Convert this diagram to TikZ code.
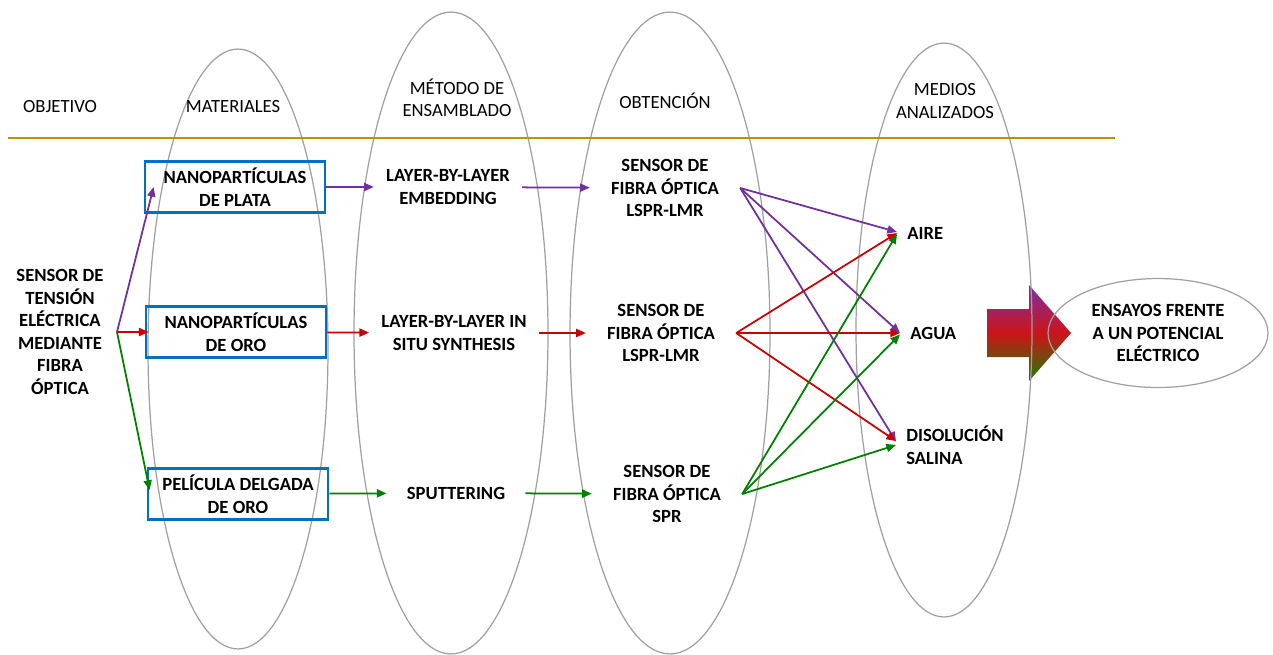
\documentclass[tikz,border=0pt]{standalone}
\usepackage{fontspec}
\setmainfont{Carlito}
\usetikzlibrary{arrows.meta,positioning,shapes.geometric}
\definecolor{goldline}{RGB}{191,144,0}
\definecolor{boxblue}{RGB}{0,112,192}
\definecolor{arrpurple}{RGB}{112,48,160}
\definecolor{arrred}{RGB}{204,0,0}
\definecolor{arrgreen}{RGB}{0,128,0}
\definecolor{ellgray}{RGB}{160,160,160}
\definecolor{shtop}{RGB}{125,45,165}
\definecolor{shmid}{RGB}{205,20,25}
\definecolor{shbot}{RGB}{30,125,0}

\begin{document}
\begin{tikzpicture}[
    x=0.02cm, y=-0.02cm,
    >={Triangle[length=5.5pt,width=4.6pt]},
    every node/.style={font=\fontsize{10.6}{12.8}\selectfont},
    head/.style={
		align=center,
		inner sep=0pt
	},
    mat/.style={
		rectangle,
		draw=boxblue,
		line width=1.6pt,
		align=center,
		font=\fontsize{10.6}{12.8}\selectfont\bfseries,
		minimum width=3.6cm,
		minimum height=1.02cm,
		inner sep=0pt
	},
    lbl/.style={
		align=center,
		font=\fontsize{10.6}{12.8}\selectfont\bfseries,
		inner ysep=0pt,
		inner xsep=0.24cm
	},
    obt/.style={
		lbl,
		inner xsep=0.42cm
	},
    medio/.style={
		lbl,
		align=left,
		anchor=west,
		inner xsep=0.2cm
	},
    link/.style={
		->,
		line width=1pt
	},
    orbit/.style={
		draw=ellgray,
		line width=0.7pt
	}
  ]
  \useasboundingbox (0,0) rectangle (1273,654);

  % big gradient arrow towards the final test
  \shade [top color=shtop, bottom color=shbot, middle color=shmid]
    (987,309) -- (1029,309) -- (1029,285) -- (1071,333) -- (1029,381) -- (1029,357) -- (987,357) -- cycle;

  % the column ellipses
  \draw [orbit] (238,349) ellipse [x radius=1.8cm, y radius=6cm];
  \draw [orbit] (451,333) ellipse [x radius=1.94cm, y radius=6.42cm];
  \draw [orbit] (670,333) ellipse [x radius=2cm, y radius=6.42cm];
  \draw [orbit] (944,330) ellipse [x radius=1.76cm, y radius=5.74cm];

  % header line
  \draw [goldline, line width=1.1pt] (8,138) -- (1115,138);

  % headers
  \node [head] (hobj) at (60,107) {OBJETIVO};
  \node [head] (hmat) at (233,107) {MATERIALES};
  \node [head] (hmet) at (457,98) {MÉTODO DE\\ENSAMBLADO};
  \node [head] (hobt) at (665,101) {OBTENCIÓN};
  \node [head] (hmed) at (945,101) {MEDIOS\\ANALIZADOS};

  % objective
  \node [lbl, inner xsep=0pt] (obj) at (60,332)
    {SENSOR DE\\TENSIÓN\\ELÉCTRICA\\MEDIANTE\\FIBRA\\ÓPTICA};
  \coordinate (src) at (117,332);

  % materials
  \node [mat] (mat1) at (235,187) {NANOPARTÍCULAS\\DE PLATA};
  \node [mat] (mat2) at (236,332) {NANOPARTÍCULAS\\DE ORO};
  \node [mat] (mat3) at (238,494) {PELÍCULA DELGADA\\DE ORO};

  % assembly methods
  \node [lbl] (met1) at (448,187) {LAYER-BY-LAYER\\EMBEDDING};
  \node [lbl] (met2) at (454,333) {LAYER-BY-LAYER IN\\SITU SYNTHESIS};
  \node [lbl, inner xsep=0.4cm] (met3) at (456,493) {SPUTTERING};

  % sensors obtained
  \node [obt] (obt1) at (665,188) {SENSOR DE\\FIBRA ÓPTICA\\LSPR-LMR};
  \node [obt] (obt2) at (661,333) {SENSOR DE\\FIBRA ÓPTICA\\LSPR-LMR};
  \node [obt] (obt3) at (667,494) {SENSOR DE\\FIBRA ÓPTICA\\SPR};

  % media
  \node [medio] (aire) at (897,233) {AIRE};
  \node [medio] (agua) at (900,333) {AGUA};
  \node [medio] (disol) at (896,445) {DISOLUCIÓN\\SALINA};

  % final test
  \node [ellipse, draw=ellgray, line width=0.7pt, lbl, inner sep=0pt,
         minimum width=4.4cm, minimum height=2.18cm] (ensayos) at (1158,333)
    {ENSAYOS FRENTE\\A UN POTENCIAL\\ELÉCTRICO};

  % connectors
  \draw [link, arrpurple] (src) -- ([xshift=0.2cm]mat1.west);
  \draw [link, arrred] (src) -- ([xshift=0.08cm]mat2.west);
  \draw [link, arrgreen] (src) -- ([xshift=0.06cm, yshift=0.08cm]mat3.west);

  \draw [link, arrpurple] (mat1) -- (met1);
  \draw [link, arrpurple] (met1) -- (obt1);
  \draw [link, arrred] (mat2) -- (met2);
  \draw [link, arrred] (met2) -- (obt2);
  \draw [link, arrgreen] (mat3) -- (met3);
  \draw [link, arrgreen] (met3) -- (obt3);

  \draw [link, arrpurple] (obt1.east) -- ([yshift=0.02cm]aire.west);
  \draw [link, arrpurple] (obt1.east) -- (agua.west);
  \draw [link, arrpurple] (obt1.east) -- ([yshift=0.07cm]disol.west);
  \draw [link, arrred] (obt2.east) -- (aire.west);
  \draw [link, arrred] (obt2.east) -- (agua.west);
  \draw [link, arrred] (obt2.east) -- ([yshift=0.08cm]disol.west);
  \draw [link, arrgreen] (obt3.east) -- ([yshift=-0.02cm]aire.west);
  \draw [link, arrgreen] (obt3.east) -- ([yshift=-0.03cm]agua.west);
  \draw [link, arrgreen] (obt3.east) -- (disol.west);

\end{tikzpicture}
\end{document}
